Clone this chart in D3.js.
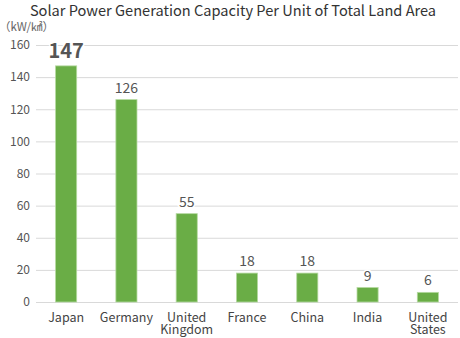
<!DOCTYPE html>
<html>
<head>
<meta charset="utf-8">
<script src="https://cdn.jsdelivr.net/npm/d3@7"></script>
<style>
  html, body { margin: 0; padding: 0; background: #fff; }
  svg { display: block; font-family: "Noto Sans CJK JP", "Noto Sans", sans-serif; }
</style>
</head>
<body>
<svg id="chart" width="460" height="338"></svg>
<script>
// Solar capacity per unit of land area (kW/km²)
const countries = [["Japan"], ["Germany"], ["United", "Kingdom"], ["France"], ["China"], ["India"], ["United", "States"]];
const capacity = [147, 126, 55, 18, 18, 9, 6];
const yTicks = [0, 20, 40, 60, 80, 100, 120, 140, 160];

const svg = d3.select("#chart");
const margin = { left: 36, right: 2, top: 45, bottom: 36 };
const W = 460, H = 338;

const x = d3.scaleBand()
  .domain(countries.map((d, i) => i))
  .range([margin.left, W - margin.right])
  .paddingInner(0.65)
  .paddingOuter(0.325);

const y = d3.scaleLinear()
  .domain([0, 160])
  .range([H - margin.bottom, margin.top]);

// Title
svg.append("text")
  .attr("x", 233).attr("y", 15.5)
  .attr("text-anchor", "middle")
  .attr("font-size", 14.6)
  .attr("fill", "#333")
  .text("Solar Power Generation Capacity Per Unit of Total Land Area");

// Unit
svg.append("text")
  .attr("x", -1).attr("y", 30.5)
  .attr("font-size", 11.5)
  .attr("fill", "#666")
  .text("（kW/㎢）");

// Gridlines
const yAxis = d3.axisLeft(y)
  .tickValues(yTicks)
  .tickSize(-(W - margin.left - margin.right))
  .tickPadding(6);

const gy = svg.append("g")
  .attr("transform", `translate(${margin.left},0)`)
  .call(yAxis);
gy.select(".domain").remove();
gy.selectAll(".tick line").attr("stroke", "#d9d9d9").attr("stroke-width", 1);
gy.selectAll(".tick text")
  .attr("font-size", 12)
  .attr("fill", "#555")
  .attr("font-family", "'Noto Sans CJK JP', 'Noto Sans', sans-serif");

// Bars
svg.append("g").selectAll("rect")
  .data(capacity)
  .join("rect")
  .attr("x", (d, i) => x(i))
  .attr("y", d => y(d))
  .attr("width", x.bandwidth())
  .attr("height", d => y(0) - y(d))
  .attr("fill", "#6aad46")
  .attr("stroke", "#b5d9a0")
  .attr("stroke-width", 0.8);

// Value labels with white halo over the gridlines
svg.append("g").selectAll("text")
  .data(capacity)
  .join("text")
  .attr("x", (d, i) => x(i) + x.bandwidth() / 2)
  .attr("y", (d, i) => y(d) - (i === 0 ? 8 : 7))
  .attr("text-anchor", "middle")
  .attr("font-size", (d, i) => i === 0 ? 20 : 14)
  .attr("font-weight", (d, i) => i === 0 ? "bold" : "normal")
  .attr("fill", "#555")
  .attr("stroke", "#fff")
  .attr("stroke-width", 3)
  .attr("paint-order", "stroke")
  .text(d => d);

// Category labels
const cats = svg.append("g").selectAll("text")
  .data(countries)
  .join("text")
  .attr("x", (d, i) => x(i) + x.bandwidth() / 2)
  .attr("y", 322)
  .attr("text-anchor", "middle")
  .attr("font-size", 12.5)
  .attr("fill", "#444");
cats.selectAll("tspan")
  .data(d => d)
  .join("tspan")
  .attr("x", function() { return d3.select(this.parentNode).attr("x"); })
  .attr("dy", (d, j) => j === 0 ? 0 : 12)
  .text(d => d);
</script>
</body>
</html>
